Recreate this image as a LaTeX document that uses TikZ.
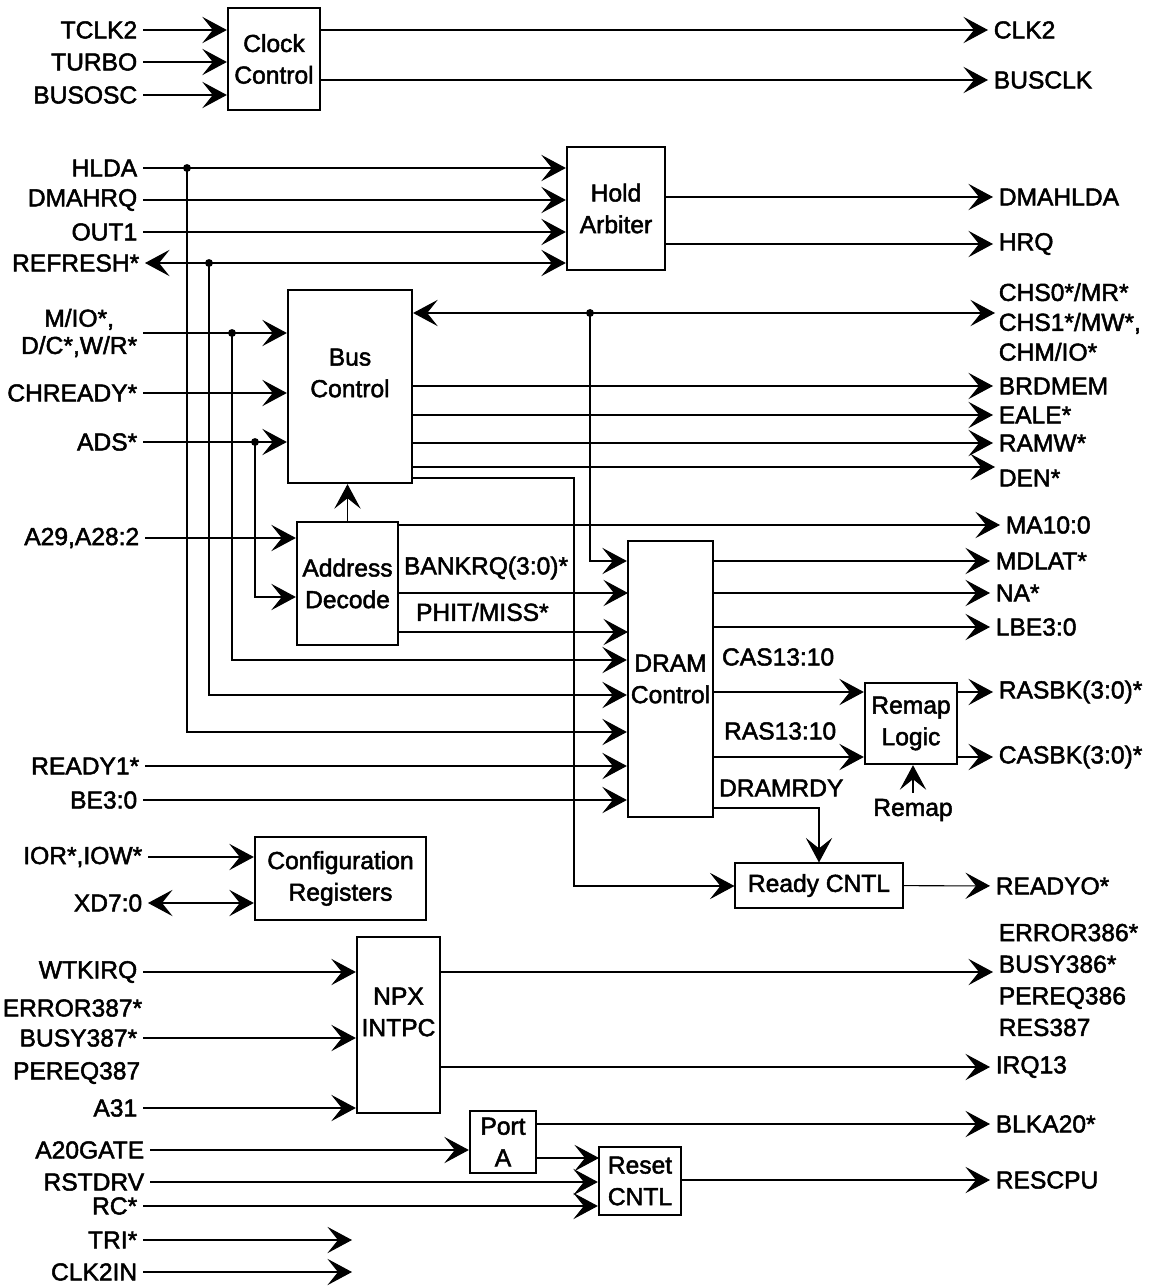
\documentclass[tikz,border=0pt]{standalone}
\usepackage{fontspec}
\setmainfont{Liberation Sans}
\newfontfamily\sigfont{Liberation Sans}[FakeBold=2]
\usepackage{tikz}
\usetikzlibrary{arrows.meta}
\tikzset{blk/.style 2 args={draw,line width=1.3pt,minimum width=#1*0.02cm,minimum height=#2*0.02cm,inner sep=1pt,align=center},
  lin/.style={anchor=east,inner sep=3pt},
  lout/.style={anchor=west,inner sep=3pt},
  txt/.style={anchor=west,inner sep=2pt},
  dot/.style={circle,fill,inner sep=0pt,minimum size=4.5pt}}

\begin{document}
\begin{tikzpicture}[>={Stealth[length=14pt,width=15pt,inset=6pt]},x=0.02cm,y=-0.02cm,line width=0.6pt,font=\sigfont\fontsize{14}{18}\selectfont]
    \useasboundingbox (0,0) rectangle (1156,1287);

    % blocks
    \node[blk={92}{102}] (clk) at (274,59) {Clock\\Control};
    \node[blk={98}{123}] (hold) at (616,208.5) {Hold\\Arbiter};
    \node[blk={124}{193}] (bus) at (350,386.5) {};
    \node[align=center] (bustxt) at (350,373) {Bus\\Control};
    \node[blk={101}{123}] (addr) at (347.5,583.5) {Address\\Decode};
    \node[blk={85}{276}] (dram) at (670.5,679) {DRAM\\Control};
    \node[blk={92}{81}] (remap) at (911,723.5) {Remap\\Logic};
    \node[blk={168}{45},line width=0.6pt] (ready) at (819,885.5) {Ready CNTL};
    \node[blk={171}{83}] (conf) at (340.5,878.5) {Configuration\\Registers};
    \node[blk={83}{176}] (npx) at (398.5,1025) {};
    \node[align=center] (npxtxt) at (398.5,1012) {NPX\\INTPC};
    \node[blk={66}{62}] (porta) at (503,1142) {Port\\A};
    \node[blk={82}{68}] (reset) at (640,1181) {Reset\\CNTL};

    % inputs
    \node[lin] (tclk2) at (143,30) {TCLK2};
    \node[lin] (turbo) at (143,62) {TURBO};
    \node[lin] (busosc) at (143,95) {BUSOSC};
    \node[lin] (hlda) at (143,168) {HLDA};
    \node[lin] (dmahrq) at (143,200) {DMAHRQ};
    \node[lin] (out1) at (143,232) {OUT1};
    \node[lin] (refresh) at (145,263) {REFRESH*};
    \node[lin,align=center,font=\sigfont\fontsize{14}{15.5}\selectfont] (mio) at (143,333) {M/IO*,\\D/C*,W/R*};
    \node[lin] (chready) at (143,393) {CHREADY*};
    \node[lin] (ads) at (143,442) {ADS*};
    \node[lin] (a29) at (145,538) {A29,A28:2};
    \node[lin] (ready1) at (145,766) {READY1*};
    \node[lin] (be) at (143,800) {BE3:0};
    \node[lin] (ior) at (148,857) {IOR*,IOW*};
    \node[lin] (xd) at (148,903) {XD7:0};
    \node[lin] (wtkirq) at (143,972) {WTKIRQ};
    \node[lin] (err387) at (148,1008) {ERROR387*};
    \node[lin] (busy387) at (143,1038) {BUSY387*};
    \node[lin] (pereq387) at (146,1073) {PEREQ387};
    \node[lin] (a31) at (143,1108) {A31};
    \node[lin] (a20) at (150,1150) {A20GATE};
    \node[lin] (rstdrv) at (150,1182) {RSTDRV};
    \node[lin] (rc) at (143,1206) {RC*};
    \node[lin] (tri) at (143,1240) {TRI*};
    \node[lin] (clk2in) at (143,1272) {CLK2IN};

    % outputs
    \node[lout] (clk2) at (988,30) {CLK2};
    \node[lout] (busclk) at (988,80) {BUSCLK};
    \node[lout] (dmahlda) at (993,197) {DMAHLDA};
    \node[lout] (hrq) at (993,244) {HRQ};
    \node[lout,align=left,font=\sigfont\fontsize{14}{17}\selectfont] (chs) at (993,322) {CHS0*/MR*\\CHS1*/MW*,\\CHM/IO*};
    \node[lout] (brdmem) at (993,386) {BRDMEM};
    \node[lout] (eale) at (993,415) {EALE*};
    \node[lout] (ramw) at (993,443) {RAMW*};
    \node[lout] (den) at (993,478) {DEN*};
    \node[lout] (ma) at (1000,525) {MA10:0};
    \node[lout] (mdlat) at (990,561) {MDLAT*};
    \node[lout] (na) at (990,593) {NA*};
    \node[lout] (lbe) at (990,627) {LBE3:0};
    \node[lout] (rasbk) at (993,692) {RASBK(3:0)*};
    \node[lout] (casbk) at (993,757) {CASBK(3:0)*};
    \node[lout] (readyo) at (990,886) {READYO*};
    \node[lout,align=left] (err386) at (993,980) {ERROR386*\\BUSY386*\\PEREQ386\\RES387};
    \node[lout] (irq13) at (990,1067) {IRQ13};
    \node[lout] (blka20) at (990,1124) {BLKA20*};
    \node[lout] (rescpu) at (990,1180) {RESCPU};

    % inner labels
    \node[txt] (bklbl) at (400,568) {BANKRQ(3:0)*};
    \node[txt] (phlbl) at (412,612) {PHIT/MISS*};
    \node[txt] (caslbl) at (718,657) {CAS13:10};
    \node[txt] (raslbl) at (720,731) {RAS13:10};
    \node[txt] (rdylbl) at (715,788) {DRAMRDY};
    \node (remapin) at (913,810) {Remap};

    % junctions and corners
    \node[dot] (jhl) at (187,168) {};
    \node[dot] (jrf) at (209,263) {};
    \node[dot] (jmio) at (232,333) {};
    \node[dot] (jads) at (255,442) {};
    \node[dot] (jchs) at (590,313) {};
    \coordinate (hll) at (187,732);
    \coordinate (rfl) at (209,695);
    \coordinate (miol) at (232,660);
    \coordinate (adsl) at (255,597);
    \coordinate (chsl) at (590,561);
    \coordinate (chsin) at (995,313);
    \coordinate (denin) at (995,467);
    \coordinate (bkin) at (628,593);
    \coordinate (phin) at (628,632);
    \coordinate (rdt) at (574,478);
    \coordinate (rdb) at (574,886);
    \coordinate (drt) at (819,808);
    \coordinate (prin) at (599,1158);
    \coordinate (trie) at (352,1240);
    \coordinate (clkie) at (352,1272);

    % clock control
    \draw [->] (tclk2) -- (clk.west |- tclk2);
    \draw [->] (turbo) -- (clk.west |- turbo);
    \draw [->] (busosc) -- (clk.west |- busosc);
    \draw [->] (clk.east |- clk2) -- (clk2);
    \draw [->] (clk.east |- busclk) -- (busclk);

    % hold arbiter
    \draw [->] (hlda) -- (hold.west |- hlda);
    \draw [->] (dmahrq) -- (hold.west |- dmahrq);
    \draw [->] (out1) -- (hold.west |- out1);
    \draw [<->] (refresh) -- (hold.west |- refresh);
    \draw [->] (hold.east |- dmahlda) -- (dmahlda);
    \draw [->] (hold.east |- hrq) -- (hrq);

    % bus control
    \draw [->] (mio) -- (bus.west |- mio);
    \draw [->] (chready) -- (bus.west |- chready);
    \draw [->] (ads) -- (bus.west |- ads);
    \draw [<->] (bus.east |- chsin) -- (chsin);
    \draw [->] (bus.east |- brdmem) -- (brdmem);
    \draw [->] (bus.east |- eale) -- (eale);
    \draw [->] (bus.east |- ramw) -- (ramw);
    \draw [->] (bus.east |- denin) -- (denin);
    \draw [->] (bus.east |- rdt) -- (rdt) -- (rdb) -- (ready.west |- rdb);

    % address decode
    \draw [->] (a29) -- (addr.west |- a29);
    \draw [->] (jads.center) -- (adsl) -- (addr.west |- adsl);
    \draw [->] (addr) -- (bus.south -| addr);
    \draw [->] (addr.east |- ma) -- (ma);
    \draw [->] (addr.east |- bkin) -- (bkin);
    \draw [->] (addr.east |- phin) -- (phin);

    % dram control
    \draw [->] (jchs.center) -- (chsl) -- (dram.west |- chsl);
    \draw [->] (jmio.center) -- (miol) -- (dram.west |- miol);
    \draw [->] (jrf.center) -- (rfl) -- (dram.west |- rfl);
    \draw [->] (jhl.center) -- (hll) -- (dram.west |- hll);
    \draw [->] (ready1) -- (dram.west |- ready1);
    \draw [->] (be) -- (dram.west |- be);
    \draw [->] (dram.east |- mdlat) -- (mdlat);
    \draw [->] (dram.east |- na) -- (na);
    \draw [->] (dram.east |- lbe) -- (lbe);
    \draw [->] (dram.east |- rasbk) -- (remap.west |- rasbk);
    \draw [->] (dram.east |- casbk) -- (remap.west |- casbk);
    \draw [->] (dram.east |- drt) -- (drt) -- (ready.north);

    % remap, ready
    \draw [->] (remap.east |- rasbk) -- (rasbk);
    \draw [->] (remap.east |- casbk) -- (casbk);
    \draw [->] (remapin) -- (remap.south -| remapin);
    \draw [->] (ready) -- (readyo);

    % configuration
    \draw [->] (ior) -- (conf.west |- ior);
    \draw [<->] (xd) -- (conf.west |- xd);

    % npx
    \draw [->] (wtkirq) -- (npx.west |- wtkirq);
    \draw [->] (busy387) -- (npx.west |- busy387);
    \draw [->] (a31) -- (npx.west |- a31);
    \draw [->] (npx.east |- wtkirq) -- (err386.west |- wtkirq);
    \draw [->] (npx.east |- irq13) -- (irq13);

    % port a, reset
    \draw [->] (a20) -- (porta.west |- a20);
    \draw [->] (porta.east |- blka20) -- (blka20);
    \draw [->] (porta.east |- prin) -- (prin);
    \draw [->] (rstdrv) -- (reset.west |- rstdrv);
    \draw [->] (rc) -- (reset.west |- rc);
    \draw [->] (reset.east |- rescpu) -- (rescpu);
    \draw [->] (tri) -- (trie);
    \draw [->] (clk2in) -- (clkie);
\end{tikzpicture}
\end{document}
